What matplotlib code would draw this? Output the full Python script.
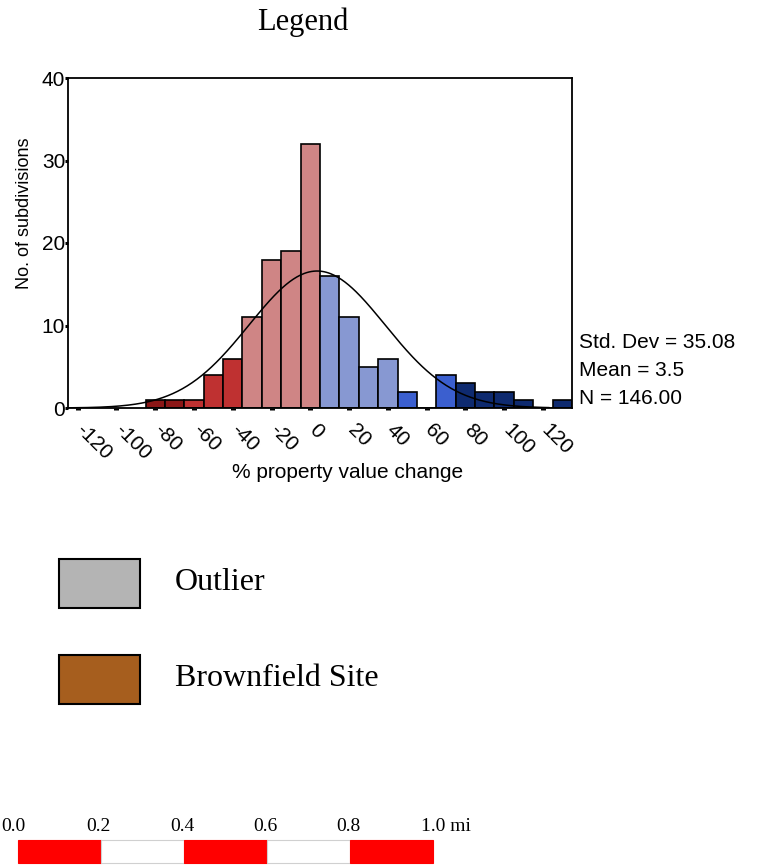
"""Histogram of % property value change with a fitted normal curve,
followed by a map-style legend and a scale bar."""

import numpy as np
import matplotlib.pyplot as plt
from matplotlib.patches import Rectangle
from matplotlib.transforms import ScaledTranslation

# histogram bins (centres, width 10) and counts
bin_centers = [-80, -70, -60, -50, -40, -30, -20, -10, 0, 10, 20, 30, 40,
               50, 60, 70, 80, 90, 100, 110, 120, 130]
counts = [1, 1, 1, 4, 6, 11, 18, 19, 32, 16, 11, 5, 6,
          2, 0, 4, 3, 2, 2, 1, 0, 1]
bin_classes = ["dr", "dr", "r", "r", "r", "pk", "pk", "pk", "pk",
               "lb", "lb", "lb", "lb", "b", "b", "b",
               "nv", "nv", "nv", "nv", "nv", "nv"]
BIN_WIDTH = 10

std_dev = 35.08
mean = 3.5
n_obs = 146

x_ticks = [-120, -100, -80, -60, -40, -20, 0, 20, 40, 60, 80, 100, 120]
y_ticks = [0, 10, 20, 30, 40]

legend_labels = ["Outlier", "Brownfield Site"]
legend_colors = ["#b4b4b4", "#a65e1e"]

scale_ticks = [0.0, 0.2, 0.4, 0.6, 0.8, 1.0]
scale_labels = ["0.0", "0.2", "0.4", "0.6", "0.8", "1.0 mi"]

CLASS_COLORS = {
    "dr": "#8b1717",
    "r": "#bf3131",
    "pk": "#cf8585",
    "lb": "#8798d2",
    "b": "#3b5fcf",
    "nv": "#0e2a6f",
}

SANS = "Liberation Sans"
SERIF = "Liberation Serif"
W, H = 760, 867


def fx(px):
    return px / W


def fy(py):
    return 1 - py / H


def main():
    fig = plt.figure(figsize=(7.6, 8.67), dpi=100)

    fig.text(fx(303), fy(22), "Legend", family=SERIF, fontsize=22,
             ha="center", va="center")

    # --- histogram ---
    ax = fig.add_axes([fx(68), fy(408), fx(572 - 68), (408 - 78) / H])
    colors = [CLASS_COLORS[c] for c in bin_classes]
    ax.bar(bin_centers, counts, width=BIN_WIDTH, color=colors,
           edgecolor="black", linewidth=1.2, zorder=2)

    xs = np.linspace(-125, 123, 400)
    pdf = np.exp(-0.5 * ((xs - mean) / std_dev) ** 2) / (std_dev * np.sqrt(2 * np.pi))
    ax.plot(xs, pdf * n_obs * BIN_WIDTH, color="black", lw=1.1, zorder=3)

    ax.set_xlim(-125, 135)
    ax.set_ylim(0, 40)
    for s in ax.spines.values():
        s.set_linewidth(1.3)

    ax.set_xticks(x_ticks)
    ax.set_xticklabels([str(v) for v in x_ticks], rotation=-45,
                       ha="left", va="top", rotation_mode="anchor",
                       family=SANS, fontsize=15)
    ax.tick_params(axis="x", direction="out", length=1.6, width=3.6, pad=7)
    # labels sit a little to the right of their tick in the original
    shift = ScaledTranslation(6 / 72, 0, fig.dpi_scale_trans)
    for lab in ax.get_xticklabels():
        lab.set_transform(lab.get_transform() + shift)
    ax.set_yticks(y_ticks)
    ax.set_yticklabels([str(v) for v in y_ticks], family=SANS, fontsize=15)
    ax.tick_params(axis="y", direction="out", length=2, width=2.2, pad=0)

    ax.set_ylabel("No. of subdivisions", family=SANS, fontsize=13)
    ax.yaxis.set_label_coords(-0.07, 0.59)
    fig.text(fx(348), fy(472), "% property value change", family=SANS,
             fontsize=15, ha="center", va="center")

    stats = [f"Std. Dev = {std_dev:.2f}", f"Mean = {mean}", f"N = {n_obs:.2f}"]
    for i, line in enumerate(stats):
        fig.text(fx(579), fy(343 + 28 * i), line, family=SANS, fontsize=15,
                 ha="left", va="center")

    # --- legend boxes ---
    for i, (lab, col) in enumerate(zip(legend_labels, legend_colors)):
        top = 559 + 96 * i
        fig.patches.append(Rectangle((fx(59), fy(top + 49)), fx(81), 49 / H,
                                     transform=fig.transFigure,
                                     facecolor=col, edgecolor="black",
                                     linewidth=1.5))
        fig.text(fx(175), fy(top + 24), lab, family=SERIF, fontsize=23,
                 ha="left", va="center")

    # --- scale bar ---
    sax = fig.add_axes([fx(18), fy(863), fx(433 - 18), 23 / H])
    sax.set_xlim(0, 1.0)
    sax.set_ylim(0, 1)
    sax.axis("off")
    for i in range(len(scale_ticks) - 1):
        x0, x1 = scale_ticks[i], scale_ticks[i + 1]
        red = i % 2 == 0
        sax.add_patch(Rectangle((x0, 0), x1 - x0, 1,
                                facecolor="#ff0000" if red else "white",
                                edgecolor="#ff0000" if red else "#d0d0d0",
                                linewidth=0.8, clip_on=False))
    for v, lab in zip(scale_ticks, scale_labels):
        if lab.endswith("mi"):
            sax.text(v - 0.03, 1.2, lab, family=SERIF, fontsize=14,
                     ha="left", va="bottom")
        elif v == 0:
            # flush with the left edge of the figure
            sax.text(v - 0.041, 1.2, lab, family=SERIF, fontsize=14,
                     ha="left", va="bottom")
        else:
            sax.text(v - 0.005, 1.2, lab, family=SERIF, fontsize=14,
                     ha="center", va="bottom")

    fig.savefig("out.png", dpi=100)


if __name__ == "__main__":
    main()
